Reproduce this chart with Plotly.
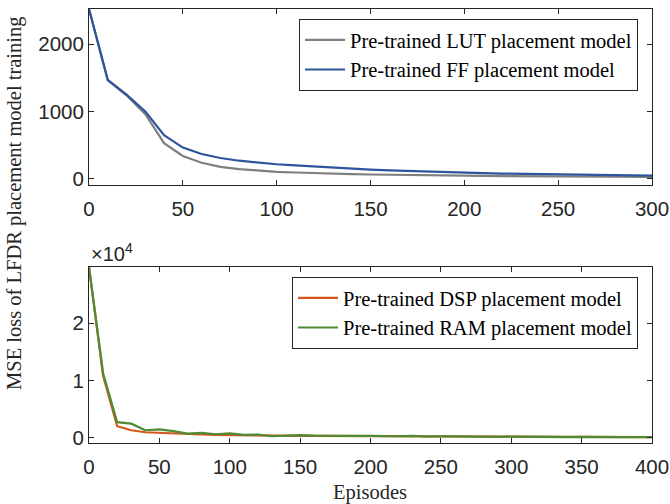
import plotly.graph_objects as go

# ---- data ----
ep_top = list(range(0, 301, 10))
lut_loss = [2520, 1460, 1240, 960, 530, 340, 240, 180, 145, 120, 105, 95, 85, 78, 72, 66,
            61, 57, 53, 50, 47, 44, 42, 40, 38, 36, 34, 32, 31, 30, 29]
ff_loss = [2520, 1470, 1250, 1000, 650, 465, 370, 310, 270, 240, 218, 200, 182, 165, 150, 138,
           127, 117, 108, 100, 92, 85, 79, 74, 70, 66, 62, 59, 56, 53, 50]

ep_bot = list(range(0, 401, 10))
dsp_loss = [29800, 10800, 2000, 1300, 950, 850, 650, 550, 550, 500, 450, 400, 400, 350, 330, 320,
            300, 290, 280, 270, 260, 250, 240, 230, 220, 210, 200, 190, 180, 170, 160, 150,
            150, 140, 130, 120, 120, 110, 110, 100, 100]
ram_loss = [29800, 11300, 2700, 2450, 1300, 1450, 1150, 700, 850, 600, 750, 500, 550, 250, 350, 450,
            350, 300, 350, 300, 300, 250, 250, 300, 200, 250, 200, 200, 200, 150, 200, 150,
            150, 150, 100, 150, 100, 100, 100, 100, 100]

top_xticks = [0, 50, 100, 150, 200, 250, 300]
top_yticks = [0, 1000, 2000]
bot_xticks = [0, 50, 100, 150, 200, 250, 300, 350, 400]
bot_yticks = [0, 10000, 20000]
bot_yticklabels = ["0", "1", "2"]

names = ["Pre-trained LUT placement model", "Pre-trained FF placement model",
         "Pre-trained DSP placement model", "Pre-trained RAM placement model"]
colors = ["#7f7f7f", "#2d549c", "#d4581a", "#4f8a35"]

fig = go.Figure()
fig.add_trace(go.Scatter(x=ep_top, y=lut_loss, mode="lines", name=names[0],
                         line=dict(color=colors[0], width=2.2), xaxis="x", yaxis="y", legend="legend"))
fig.add_trace(go.Scatter(x=ep_top, y=ff_loss, mode="lines", name=names[1],
                         line=dict(color=colors[1], width=2.2), xaxis="x", yaxis="y", legend="legend"))
fig.add_trace(go.Scatter(x=ep_bot, y=dsp_loss, mode="lines", name=names[2],
                         line=dict(color=colors[2], width=2.2), xaxis="x2", yaxis="y2", legend="legend2"))
fig.add_trace(go.Scatter(x=ep_bot, y=ram_loss, mode="lines", name=names[3],
                         line=dict(color=colors[3], width=2.2), xaxis="x2", yaxis="y2", legend="legend2"))

axcol = "#262626"
serif = "Liberation Serif, Times New Roman"
tickfont = dict(family="Liberation Sans, Arial", size=20.5, color=axcol)
common = dict(showline=True, linecolor=axcol, linewidth=1, mirror="allticks", ticks="inside",
              ticklen=5, tickcolor=axcol, showgrid=False, zeroline=False, tickfont=tickfont,
              automargin=False)

xd = [89 / 670, 652 / 670]
legfont = dict(family=serif, size=20.5, color="#000000")
fig.update_layout(
    width=670, height=504, margin=dict(l=0, r=0, t=0, b=0, autoexpand=False),
    paper_bgcolor="white", plot_bgcolor="white",
    xaxis=dict(domain=xd, anchor="y", range=[0, 300], tickvals=top_xticks,
               ticklabelstandoff=5, **common),
    yaxis=dict(domain=[1 - 185 / 504, 1 - 9 / 504], anchor="x", range=[-90, 2520],
               tickvals=top_yticks, **common),
    xaxis2=dict(domain=xd, anchor="y2", range=[0, 400], tickvals=bot_xticks,
                ticklabelstandoff=5, **common),
    yaxis2=dict(domain=[1 - 443 / 504, 1 - 267 / 504], anchor="x2", range=[-930, 29800],
                tickvals=bot_yticks, ticktext=bot_yticklabels, **common),
    legend=dict(x=638 / 670, xanchor="right", y=1 - 19 / 504, yanchor="top",
                bgcolor="white", bordercolor=axcol, borderwidth=1, font=legfont,
                tracegroupgap=0, itemwidth=40),
    legend2=dict(x=638 / 670, xanchor="right", y=1 - 277 / 504, yanchor="top",
                 bgcolor="white", bordercolor=axcol, borderwidth=1, font=legfont,
                 tracegroupgap=0, itemwidth=40),
    showlegend=True,
)

fig.add_annotation(text="MSE loss of LFDR placement model training", xref="paper", yref="paper",
                   x=14 / 670, y=1 - 203 / 504, textangle=-90, showarrow=False,
                   xanchor="center", yanchor="middle",
                   font=dict(family=serif, size=20.5, color=axcol))
fig.add_annotation(text="Episodes", xref="paper", yref="paper",
                   x=370 / 670, y=1 - 492 / 504, showarrow=False, xanchor="center", yanchor="middle",
                   font=dict(family=serif, size=20.5, color=axcol))
fig.add_annotation(text="×10<sup>4</sup>", xref="paper", yref="paper",
                   x=89 / 670, y=1 - 267 / 504, showarrow=False, xanchor="left", yanchor="bottom",
                   font=dict(family="Liberation Sans, Arial", size=20, color=axcol))

fig.write_html("out.html", config={"displayModeBar": False},
               post_script="document.body.style.margin='0';")
